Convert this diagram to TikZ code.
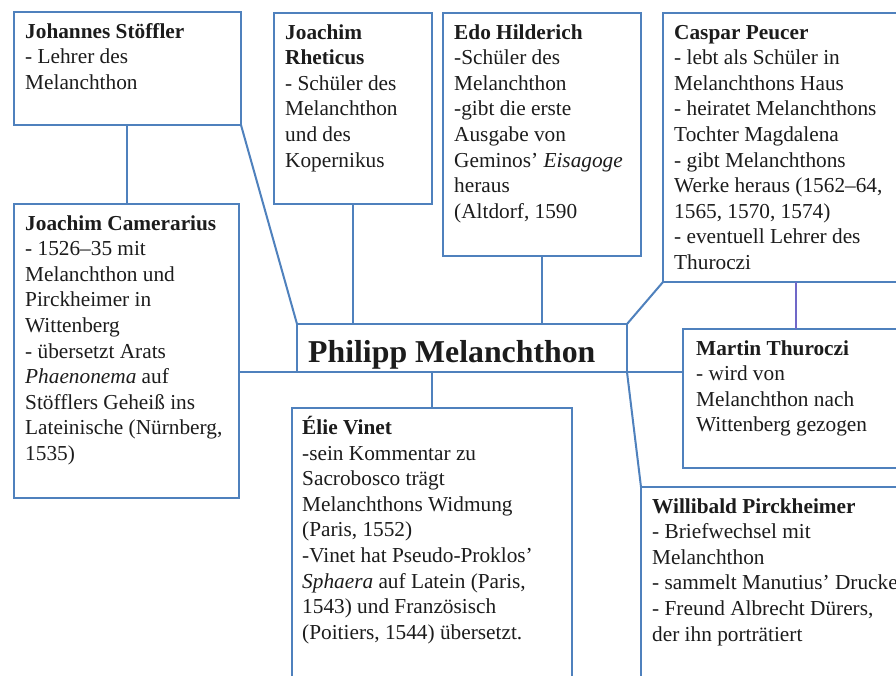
\documentclass[tikz,border=0pt]{standalone}
\usepackage{fontspec}
\setmainfont{Liberation Serif}
\usetikzlibrary{calc}
\definecolor{boxblue}{RGB}{79,129,189}
\definecolor{linkviolet}{RGB}{112,104,200}
\definecolor{ink}{RGB}{28,28,28}
\begin{document}
\begin{tikzpicture}[x=1pt,y=-1pt,
  box/.style={draw=boxblue, line width=2pt, rectangle, inner sep=0pt, outer sep=0pt, anchor=north west},
  txt/.style={anchor=north west, align=left, inner sep=0pt, text=ink, font=\fontsize{21.3}{25.6}\selectfont},
  bigtxt/.style={anchor=base west, inner sep=0pt, text=ink, font=\fontsize{31.8}{36}\selectfont\bfseries},
  link/.style={draw=boxblue, line width=2pt}]
\useasboundingbox[fill=white] (0,0) rectangle (896,675);
\clip (0,0) rectangle (896,675);

% boxes
\node[box, minimum width=227pt, minimum height=113pt] (stoeffler) at (14,12) {};
\node[box, minimum width=158pt, minimum height=191pt] (rheticus) at (274,13) {};
\node[box, minimum width=198pt, minimum height=243pt] (hilderich) at (443,13) {};
\node[box, minimum width=257pt, minimum height=269pt] (peucer) at (663,13) {};
\node[box, minimum width=225pt, minimum height=294pt] (camerarius) at (14,204) {};
\node[box, minimum width=330pt, minimum height=48pt] (melanchthon) at (297,324) {};
\node[box, minimum width=237pt, minimum height=139pt] (thuroczi) at (683,329) {};
\node[box, minimum width=280pt, minimum height=300pt] (vinet) at (292,408) {};
\node[box, minimum width=279pt, minimum height=220pt] (pirckheimer) at (641,487) {};

% connectors
\draw[link] ([xshift=113pt]stoeffler.south west) coordinate (st1) -- (st1 |- camerarius.north);
\draw[link] (stoeffler.south east) -- (melanchthon.north west);
\draw[link] (rheticus.south) -- (rheticus.south |- melanchthon.north);
\draw[link] (hilderich.south) -- (hilderich.south |- melanchthon.north);
\draw[link] (peucer.south west) -- (melanchthon.north east);
\draw[link, draw=linkviolet] ([xshift=133pt]peucer.south west) coordinate (pt1) -- (pt1 |- thuroczi.north);
\draw[link] (camerarius.east |- melanchthon.south west) -- (melanchthon.south west);
\draw[link] (melanchthon.south east) -- (thuroczi.west |- melanchthon.south east);
\draw[link] (vinet.north |- melanchthon.south) -- (vinet.north);
\draw[link] (melanchthon.south east) -- (pirckheimer.north west);

% texts
\node[txt] (stoeffler-t) at ([xshift=11pt,yshift=-8pt]stoeffler.north west)
  {\strut\textbf{Johannes Stöffler}\\- Lehrer des\\Melanchthon};
\node[txt] (rheticus-t) at ([xshift=11pt,yshift=-8pt]rheticus.north west)
  {\strut\textbf{Joachim}\\\textbf{Rheticus}\\- Schüler des\\Melanchthon\\und des\\Kopernikus};
\node[txt] (hilderich-t) at ([xshift=11pt,yshift=-8pt]hilderich.north west)
  {\strut\textbf{Edo Hilderich}\\-Schüler des\\Melanchthon\\-gibt die erste\\Ausgabe von\\Geminos’ \textit{Eisagoge}\\heraus\\(Altdorf, 1590};
\node[txt] (peucer-t) at ([xshift=11pt,yshift=-8pt]peucer.north west)
  {\strut\textbf{Caspar Peucer}\\- lebt als Schüler in\\Melanchthons Haus\\- heiratet Melanchthons\\Tochter Magdalena\\- gibt Melanchthons\\Werke heraus (1562–64,\\1565, 1570, 1574)\\- eventuell Lehrer des\\Thuroczi};
\node[txt] (camerarius-t) at ([xshift=11pt,yshift=-8pt]camerarius.north west)
  {\strut\textbf{Joachim Camerarius}\\- 1526–35 mit\\Melanchthon und\\Pirckheimer in\\Wittenberg\\- übersetzt Arats\\\textit{Phaenonema} auf\\Stöfflers Geheiß ins\\Lateinische (Nürnberg,\\1535)};
\node[bigtxt] (melanchthon-t) at ([xshift=11pt,yshift=-38pt]melanchthon.north west) {Philipp Melanchthon};
\node[txt] (thuroczi-t) at ([xshift=13pt,yshift=-8pt]thuroczi.north west)
  {\strut\textbf{Martin Thuroczi}\\- wird von\\Melanchthon nach\\Wittenberg gezogen};
\node[txt] (vinet-t) at ([xshift=10pt,yshift=-8pt]vinet.north west)
  {\strut\textbf{Élie Vinet}\\-sein Kommentar zu\\Sacrobosco trägt\\Melanchthons Widmung\\(Paris, 1552)\\-Vinet hat Pseudo-Proklos’\\\textit{Sphaera} auf Latein (Paris,\\1543) und Französisch\\(Poitiers, 1544) übersetzt.};
\node[txt] (pirckheimer-t) at ([xshift=11pt,yshift=-8pt]pirckheimer.north west)
  {\strut\textbf{Willibald Pirckheimer}\\- Briefwechsel mit\\Melanchthon\\- sammelt Manutius’ Drucke\\- Freund Albrecht Dürers,\\der ihn porträtiert};
\end{tikzpicture}
\end{document}
